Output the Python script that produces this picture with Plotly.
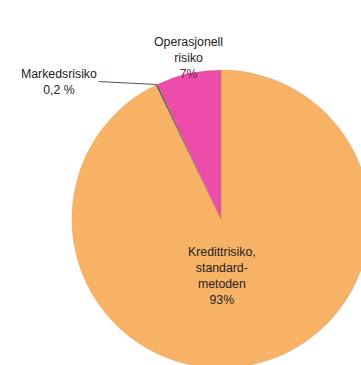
import math
import plotly.graph_objects as go

# Kapitalkrav fordelt på risikotype (prosent), i tegnerekkefølge med klokka fra kl. 12
categories = ["Kredittrisiko, standardmetoden", "Markedsrisiko", "Operasjonell risiko"]
shares = [93, 0.2, 7]
colors = ["#F8B266", "#555555", "#EC4CAA"]

W, H = 400, 400
# pie placement on the canvas (paper fractions)
dom_x = [0.18, 0.925]
dom_y = [0.08, 0.825]

fig = go.Figure(go.Pie(
    labels=categories,
    values=shares,
    sort=False,
    direction="clockwise",
    rotation=0,
    marker=dict(colors=colors, line=dict(color="#c08a5a", width=0.3)),
    textinfo="none",
    hoverinfo="label+percent",
    domain=dict(x=dom_x, y=dom_y),
    showlegend=False,
))

# geometry of the pie, used to anchor the labels
cx = (dom_x[0] + dom_x[1]) / 2 * W
cy = (1 - (dom_y[0] + dom_y[1]) / 2) * H
r = min((dom_x[1] - dom_x[0]) * W, (dom_y[1] - dom_y[0]) * H) / 2
total = sum(shares)

def edge_point(idx, frac_r=1.0):
    # clockwise angle from 12 o'clock to the middle of slice idx
    start = sum(shares[:idx]) / total
    mid = (start + shares[idx] / total / 2) * 2 * math.pi
    px = cx + frac_r * r * math.sin(mid)
    py = cy - frac_r * r * math.cos(mid)
    return px / W, 1 - py / H

font = dict(family="Liberation Sans, Arial, sans-serif", size=12.3, color="#222222")
ann = []

# Operasjonell risiko
ox, oy = edge_point(2)
ann.append(dict(x=ox, y=oy, xref="paper", yref="paper", xanchor="center", yanchor="bottom",
                yshift=-9, xshift=0, showarrow=False, align="center", font=font,
                text="Operasjonell<br>risiko<br><span style='color:#7a1450'>%d%%</span>" % shares[2]))

# Markedsrisiko with leader line
mx, my = edge_point(1)
ann.append(dict(x=mx, y=my, xref="paper", yref="paper", ax=-58, ay=-3,
                showarrow=True, arrowhead=0, arrowwidth=1, arrowcolor="#555555",
                text="Markedsrisiko<br>0,2 %", font=font, align="center",
                xanchor="right", yanchor="middle"))

# Kredittrisiko
kx, ky = edge_point(0, 0.0)
ann.append(dict(x=kx, y=ky, xref="paper", yref="paper", xanchor="center", yanchor="middle",
                yshift=-57, xshift=1, showarrow=False, align="center", font=font,
                text="Kredittrisiko,<br>standard-<br>metoden<br>%d%%" % shares[0]))

fig.update_layout(
    width=W, height=H, autosize=False,
    margin=dict(l=0, r=0, t=0, b=0),
    paper_bgcolor="white", plot_bgcolor="white",
    annotations=ann,
)

fig.write_html("out.html", post_script="document.body.style.overflow='hidden';")
